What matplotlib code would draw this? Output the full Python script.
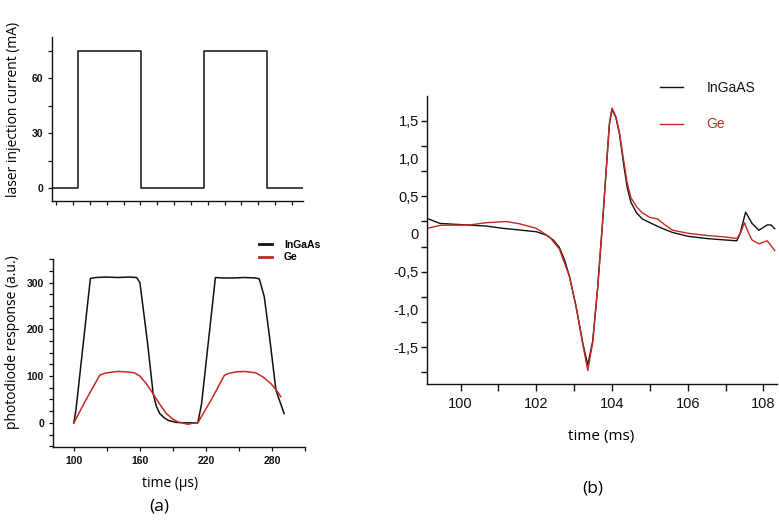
import matplotlib
matplotlib.use("Agg")
import matplotlib.pyplot as plt
from matplotlib.ticker import FixedLocator, MultipleLocator
import numpy as np

# --- (a) top: laser injection current ---
t_laser = [80, 103.4, 103.4, 160.4, 160.4, 217.5, 217.5, 274.5, 274.5, 307]
i_laser = [0, 0, 75, 75, 0, 0, 75, 75, 0, 0]

# --- (a) bottom: photodiode response ---
t_ingaas_a = [100, 102, 115, 120, 130, 140, 150, 157, 160, 162, 167, 172, 175, 178, 182,
              186, 193, 200, 212.6, 216, 228.6, 235, 245, 255, 265, 268.5, 273, 278, 283.6, 291]
r_ingaas_a = [0, 30, 309, 311, 312, 311, 312, 311, 300, 263, 170, 63, 35, 20, 11,
              5, 1, 0, 0, 40, 311, 310, 310, 311, 310, 308, 270, 180, 70, 20]
t_ge_a = [100, 110, 123.5, 128, 132.6, 140, 148, 155, 160, 165.8, 171.8, 178, 184, 190,
          194.5, 200, 203.5, 208, 212.6, 225, 236.8, 241, 247.3, 255, 265.4, 272, 279, 284, 288]
r_ge_a = [0, 45, 102, 106, 108, 110, 109, 107, 100, 84, 63, 40, 20, 8,
          2, -1, -3, -1, 0, 50, 102, 106, 109, 110, 107, 98, 84, 70, 56]

# --- (b) ---
t_ingaas_b = [99.12, 99.3, 99.46, 99.8, 100.24, 100.68, 101.12, 101.56, 102.0, 102.26,
              102.45, 102.61, 102.75, 102.88, 103.05, 103.23, 103.36, 103.49, 103.62,
              103.75, 103.84, 103.93, 104.0, 104.1, 104.2, 104.3, 104.4, 104.5, 104.65,
              104.8, 105.0, 105.3, 105.6, 106.0, 106.5, 107.0, 107.3, 107.38, 107.53,
              107.7, 107.88, 108.1, 108.2, 108.3]
s_ingaas_b = [0.207, 0.17, 0.14, 0.13, 0.118, 0.105, 0.075, 0.053, 0.03, -0.014,
              -0.08, -0.18, -0.35, -0.57, -0.96, -1.45, -1.74, -1.42, -0.72,
              0.15, 0.80, 1.45, 1.65, 1.55, 1.32, 0.95, 0.62, 0.42, 0.28,
              0.2, 0.15, 0.08, 0.02, -0.03, -0.06, -0.08, -0.09, 0.0, 0.29,
              0.14, 0.05, 0.12, 0.12, 0.07]
t_ge_b = [99.12, 99.46, 100.24, 100.68, 101.21, 101.56, 102.0, 102.35, 102.61, 102.88,
          103.05, 103.23, 103.36, 103.49, 103.62, 103.75, 103.84, 103.93, 104.0, 104.1,
          104.2, 104.3, 104.4, 104.5, 104.65, 104.8, 105.0, 105.2, 105.4, 105.6, 106.0,
          106.5, 107.0, 107.3, 107.4, 107.5, 107.6, 107.7, 107.88, 108.1, 108.3]
s_ge_b = [0.075, 0.115, 0.12, 0.15, 0.165, 0.135, 0.075, -0.04, -0.2, -0.57,
          -0.96, -1.47, -1.81, -1.44, -0.72, 0.15, 0.8, 1.46, 1.67, 1.56,
          1.34, 1.0, 0.68, 0.48, 0.36, 0.28, 0.22, 0.2, 0.12, 0.05, 0.01,
          -0.02, -0.04, -0.06, 0.02, 0.15, 0.02, -0.08, -0.13, -0.09, -0.22]

b_ticklabels = ["1,5", "1,0", "0,5", "0", "-0,5", "-1,0", "-1,5"]
b_tickvals = [1.5, 1.0, 0.5, 0, -0.5, -1.0, -1.5]

BLACK = "#111111"
RED = "#c42a22"
TICKFONT = "Liberation Sans"
LABELFONT = "Open Sans"

fig = plt.figure(figsize=(7.79, 5.27), dpi=100)


def style(ax):
    for s in ["top", "right"]:
        ax.spines[s].set_visible(False)
    for s in ["left", "bottom"]:
        ax.spines[s].set_linewidth(1.0)
        ax.spines[s].set_color(BLACK)


# (a) top
ax1 = fig.add_axes([0.0668, 0.6186, 0.3222, 0.3112])
style(ax1)
ax1.plot(t_laser, i_laser, color=BLACK, lw=1.1)
ax1.set_xlim(80, 307)
ax1.set_ylim(-7, 82.5)
ax1.set_yticks([0, 30, 60])
ax1.yaxis.set_minor_locator(FixedLocator([15, 45, 75]))
ax1.xaxis.set_major_locator(FixedLocator(np.arange(84, 300, 15.2)))
ax1.set_xticklabels([])
ax1.tick_params(which="both", direction="out", length=3, width=0.9, colors=BLACK)
for lab in ax1.get_yticklabels():
    lab.set_fontfamily(TICKFONT)
    lab.set_fontweight("bold")
    lab.set_fontsize(7.5)
ax1.set_ylabel("laser injection current (mA)", fontfamily=LABELFONT, fontsize=10)
ax1.yaxis.set_label_coords(-0.125, 0.56)

# (a) bottom
ax2 = fig.add_axes([0.068, 0.1524, 0.3235, 0.3556])
style(ax2)
ax2.plot(t_ingaas_a, r_ingaas_a, color=BLACK, lw=1.1, label="InGaAs")
ax2.plot(t_ge_a, r_ge_a, color=RED, lw=1.1, label="Ge")
ax2.set_xlim(81, 310)
ax2.set_ylim(-51, 350)
ax2.set_yticks([0, 100, 200, 300])
ax2.yaxis.set_minor_locator(MultipleLocator(25))
ax2.set_xticks([100, 160, 220, 280])
ax2.xaxis.set_minor_locator(FixedLocator([130, 190, 250, 310]))
ax2.tick_params(which="both", direction="out", length=3, width=0.9, colors=BLACK)
for lab in ax2.get_yticklabels() + ax2.get_xticklabels():
    lab.set_fontfamily(TICKFONT)
    lab.set_fontweight("bold")
    lab.set_fontsize(7.5)
ax2.set_ylabel("photodiode response (a.u.)", fontfamily=LABELFONT, fontsize=10)
ax2.yaxis.set_label_coords(-0.13, 0.556)
ax2.set_xlabel("time (\u00b5s)", fontfamily=LABELFONT, fontsize=10, va="center")
ax2.xaxis.set_label_coords(0.464, -0.194)
leg = ax2.legend(loc="upper left", bbox_to_anchor=(0.333, 0.545),
                 bbox_transform=fig.transFigure, frameon=False,
                 prop={"family": TICKFONT, "weight": "bold", "size": 7.5},
                 handlelength=1.25, handletextpad=1.1, labelspacing=0.25,
                 borderpad=0, borderaxespad=0)
for line in leg.get_lines():
    line.set_linewidth(2.0)

# (b)
ax3 = fig.add_axes([0.5485, 0.2713, 0.4485, 0.5465])
style(ax3)
ax3.plot(t_ingaas_b, s_ingaas_b, color=BLACK, lw=1.0, label="InGaAS")
ax3.plot(t_ge_b, s_ge_b, color=RED, lw=1.0, label="Ge")
ax3.set_xlim(99.12, 108.35)
ax3.set_ylim(-1.99, 1.83)
ax3.set_xticks([100, 102, 104, 106, 108])
ax3.xaxis.set_minor_locator(FixedLocator([101, 103, 105, 107]))
ax3.yaxis.remove_overlapping_locs = False
ax3.set_yticks(b_tickvals)
ax3.set_yticklabels(b_ticklabels)
ax3.yaxis.set_minor_locator(FixedLocator(1.5 - np.arange(0, 11) / 3))
ax3.tick_params(axis="x", which="both", direction="out", length=5, width=1.0,
                colors=BLACK, labelsize=10.5, pad=4)
ax3.tick_params(axis="y", which="major", length=0, labelsize=10.5, pad=6, colors=BLACK)
ax3.tick_params(axis="y", which="minor", direction="out", length=4, width=1.0,
                colors=BLACK)
for lab in ax3.get_yticklabels() + ax3.get_xticklabels():
    lab.set_fontfamily(TICKFONT)
ax3.set_xlabel("time (ms)", fontfamily=LABELFONT, fontsize=11, va="center")
ax3.xaxis.set_label_coords(0.499, -0.181)
leg3 = ax3.legend(loc="upper left", bbox_to_anchor=(0.847, 0.846),
                  bbox_transform=fig.transFigure, frameon=False,
                  prop={"family": TICKFONT, "size": 10},
                  handlelength=1.65, handletextpad=1.7, labelspacing=1.6,
                  borderpad=0, borderaxespad=0)
for txt, col in zip(leg3.get_texts(), [BLACK, RED]):
    txt.set_color(col)

fig.text(0.205, 0.038, "(a)", fontfamily=LABELFONT, fontsize=12.5,
         ha="center", va="center")
fig.text(0.761, 0.074, "(b)", fontfamily=LABELFONT, fontsize=12.5,
         ha="center", va="center")

fig.savefig("out.png", dpi=100)
